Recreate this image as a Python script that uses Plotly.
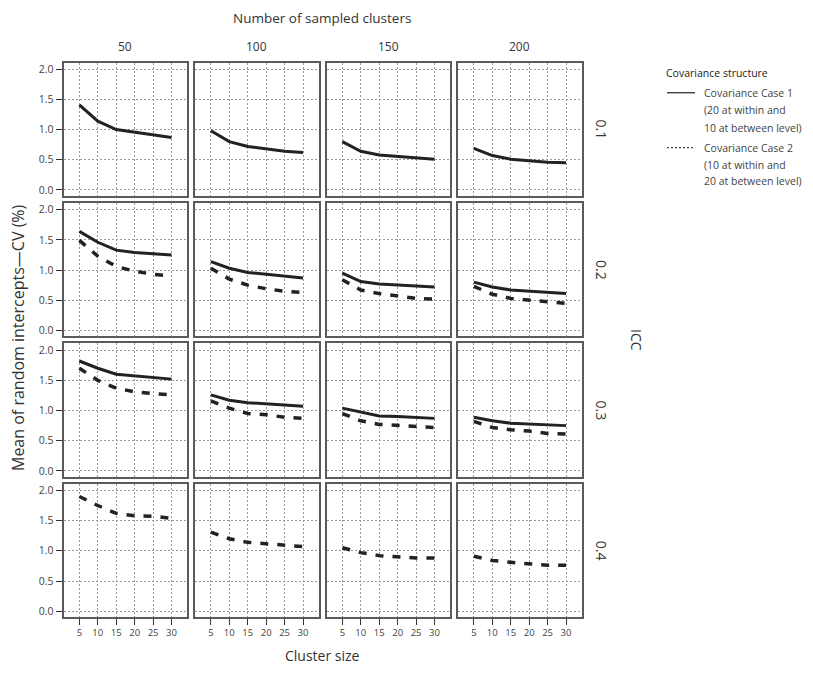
import plotly.graph_objects as go

W, H = 813, 676
OFF = 8  # page body margin
FW, FH = W - OFF, H - OFF

cluster_size = [5, 10, 15, 20, 25, 30]
n_clusters = ["50", "100", "150", "200"]
icc_levels = ["0.1", "0.2", "0.3", "0.4"]
y_ticks = [0.0, 0.5, 1.0, 1.5, 2.0]
y_ticktext = ["0.0", "0.5", "1.0", "1.5", "2.0"]

# Case 1 (solid): rows = number of sampled clusters 50,100,150,200
case1_icc01 = [[1.41, 1.14, 1.00, 0.96, 0.91, 0.87],
               [0.98, 0.80, 0.72, 0.68, 0.64, 0.62],
               [0.80, 0.64, 0.58, 0.56, 0.53, 0.51],
               [0.69, 0.57, 0.51, 0.48, 0.46, 0.45]]
case1_icc02 = [[1.64, 1.46, 1.33, 1.29, 1.27, 1.25],
               [1.14, 1.03, 0.96, 0.93, 0.89, 0.87],
               [0.95, 0.81, 0.77, 0.75, 0.73, 0.72],
               [0.80, 0.72, 0.67, 0.65, 0.62, 0.61]]
case1_icc03 = [[1.82, 1.70, 1.60, 1.57, 1.54, 1.52],
               [1.26, 1.17, 1.13, 1.11, 1.09, 1.07],
               [1.04, 0.97, 0.91, 0.90, 0.88, 0.87],
               [0.89, 0.83, 0.79, 0.78, 0.76, 0.75]]
case1_icc04 = None

# Case 2 (dashed)
case2_icc01 = None
case2_icc02 = [[1.49, 1.23, 1.06, 0.98, 0.93, 0.90],
               [1.03, 0.85, 0.75, 0.69, 0.65, 0.63],
               [0.84, 0.67, 0.61, 0.57, 0.53, 0.52],
               [0.73, 0.60, 0.53, 0.50, 0.47, 0.45]]
case2_icc03 = [[1.70, 1.50, 1.37, 1.31, 1.28, 1.26],
               [1.16, 1.04, 0.95, 0.93, 0.89, 0.87],
               [0.95, 0.83, 0.77, 0.75, 0.73, 0.72],
               [0.82, 0.72, 0.68, 0.66, 0.62, 0.61]]
case2_icc04 = [[1.90, 1.75, 1.62, 1.58, 1.57, 1.54],
               [1.31, 1.20, 1.14, 1.12, 1.09, 1.07],
               [1.05, 0.97, 0.92, 0.90, 0.88, 0.88],
               [0.91, 0.84, 0.81, 0.78, 0.76, 0.76]]

case1_rows = [case1_icc01, case1_icc02, case1_icc03, case1_icc04]
case2_rows = [case2_icc01, case2_icc02, case2_icc03, case2_icc04]

FONT = "Open Sans"
TXT = "#333333"

col_left = [63.5, 195.0, 326.5, 458.0]
col_w = 123.5
row_top = [61.7, 202.6, 343.5, 484.2]
row_h = 133.5


def px(x):
    return (x - OFF) / FW


def py(y):
    return 1 - (y - OFF) / FH


fig = go.Figure()
layout = {}

for r in range(4):
    for c in range(4):
        idx = r * 4 + c + 1
        xa = "x" if idx == 1 else f"x{idx}"
        ya = "y" if idx == 1 else f"y{idx}"
        xkey = "xaxis" if idx == 1 else f"xaxis{idx}"
        ykey = "yaxis" if idx == 1 else f"yaxis{idx}"
        layout[xkey] = dict(
            domain=[px(col_left[c]), px(col_left[c] + col_w)],
            anchor=ya, range=[0.7, 34.2],
            tickvals=cluster_size, ticktext=[str(v) for v in cluster_size],
            showticklabels=(r == 3), ticks="outside" if r == 3 else "",
            ticklen=6, tickwidth=1.2, tickcolor="#333",
            tickfont=dict(size=9.5, color="#444", family=FONT),
            showgrid=True, gridcolor="#999999", griddash="2px,2px", gridwidth=1.3,
            zeroline=False, showline=True, mirror=True,
            linecolor="#5a5a5a", linewidth=2,
        )
        layout[ykey] = dict(
            domain=[py(row_top[r] + row_h), py(row_top[r])],
            anchor=xa, range=[-0.094, 2.11],
            tickvals=y_ticks, ticktext=y_ticktext,
            showticklabels=(c == 0), ticks="outside" if c == 0 else "",
            ticklen=6, tickwidth=1.2, tickcolor="#333",
            tickfont=dict(size=10.5, color="#444", family=FONT),
            showgrid=True, gridcolor="#999999", griddash="2px,2px", gridwidth=1.3,
            zeroline=False, showline=True, mirror=True,
            linecolor="#5a5a5a", linewidth=2,
        )
        if case1_rows[r] is not None:
            fig.add_trace(go.Scatter(
                x=cluster_size, y=case1_rows[r][c], xaxis=xa, yaxis=ya,
                mode="lines", line=dict(color="#222", width=3),
                showlegend=False, hoverinfo="skip"))
        if case2_rows[r] is not None:
            fig.add_trace(go.Scatter(
                x=cluster_size, y=case2_rows[r][c], xaxis=xa, yaxis=ya,
                mode="lines", line=dict(color="#222", width=3.5, dash="8px,9px"),
                showlegend=False, hoverinfo="skip"))

ann = []


def add_text(x, y, text, size, color=TXT, angle=0, xanchor="center"):
    ann.append(dict(x=px(x), y=py(y), xref="paper", yref="paper", text=text,
                    showarrow=False, textangle=angle, xanchor=xanchor,
                    yanchor="middle", font=dict(size=size, color=color, family=FONT)))


# column headers
for c, lab in enumerate(n_clusters):
    add_text(col_left[c] + col_w / 2, 46, lab, 12)
# row labels
for r, lab in enumerate(icc_levels):
    add_text(601.5, row_top[r] + row_h / 2, lab, 14, angle=90)
add_text(637, 340, "ICC", 14, angle=90)
add_text(322, 17, "Number of sampled clusters", 13.5)
add_text(322, 656, "Cluster size", 14)
add_text(18, 338, "Mean of random intercepts\u2014CV (%)", 16, angle=-90)

# legend (drawn manually)
add_text(664, 72, "Covariance structure", 10.5, color="#222", xanchor="left")
leg1 = ["Covariance Case 1", "(20 at within and", "10 at between level)"]
leg2 = ["Covariance Case 2", "(10 at within and", "20 at between level)"]
for i, t in enumerate(leg1):
    add_text(702, 92 + 17.5 * i, t, 10.5, color="#444", xanchor="left")
for i, t in enumerate(leg2):
    add_text(702, 147 + 17 * i, t, 10.5, color="#444", xanchor="left")

shapes = [
    dict(type="line", xref="paper", yref="paper", x0=px(667), x1=px(695),
         y0=py(92), y1=py(92), line=dict(color="#222", width=1.2)),
    dict(type="line", xref="paper", yref="paper", x0=px(667), x1=px(695),
         y0=py(147), y1=py(147), line=dict(color="#444", width=1.2, dash="2px,2px")),
]

fig.update_layout(
    width=FW, height=FH, margin=dict(l=0, r=0, t=0, b=0),
    paper_bgcolor="white", plot_bgcolor="white",
    annotations=ann, shapes=shapes, showlegend=False,
    font=dict(family=FONT, color=TXT),
    **layout,
)

fig.write_html("out.html")
